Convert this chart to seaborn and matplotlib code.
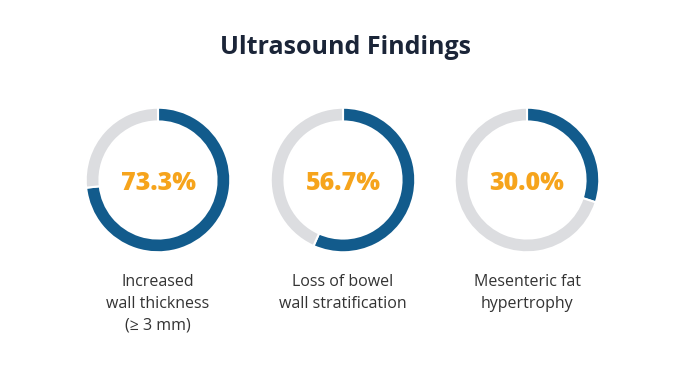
import matplotlib
matplotlib.use("Agg")
import matplotlib.pyplot as plt
import seaborn as sns

# Data
findings = ["Increased\nwall thickness\n(≥ 3 mm)",
            "Loss of bowel\nwall stratification",
            "Mesenteric fat\nhypertrophy"]
percentages = [73.3, 56.7, 30.0]

sns.set_theme(style="white")
plt.rcParams['font.family'] = ['Open Sans', 'DejaVu Sans']

blue = "#125b8c"
grey = "#dcdde0"
orange = "#f6a41c"

fig = plt.figure(figsize=(6.9, 3.88), dpi=100)
fig.patch.set_facecolor("white")

fig.text(0.5, 1 - 48 / 388, "Ultrasound Findings", ha="center", va="center",
         fontsize=18, fontweight="bold", color="#1b2538")

centers_x = [158, 343, 527]
cy = 180
r_px = 73

for cx, pct, label in zip(centers_x, percentages, findings):
    ax = fig.add_axes([(cx - r_px) / 690, (388 - cy - r_px) / 388,
                       2 * r_px / 690, 2 * r_px / 388])
    ax.pie([pct, 100 - pct], colors=[blue, grey], startangle=90,
           counterclock=False, radius=1.0,
           wedgeprops=dict(width=0.19, edgecolor="white", linewidth=1.5))
    ax.set_xlim(-1.01, 1.01)
    ax.set_ylim(-1.01, 1.01)
    ax.set_aspect("equal")
    ax.axis("off")
    ax.text(0, -0.05, f"{pct:.1f}%", ha="center", va="center",
            fontsize=18, fontweight="heavy", color=orange)
    fig.text(cx / 690, 1 - 274 / 388, label, ha="center", va="top",
             fontsize=11.5, color="#333333", linespacing=1.5)

fig.savefig("out.png", dpi=100, facecolor="white")
